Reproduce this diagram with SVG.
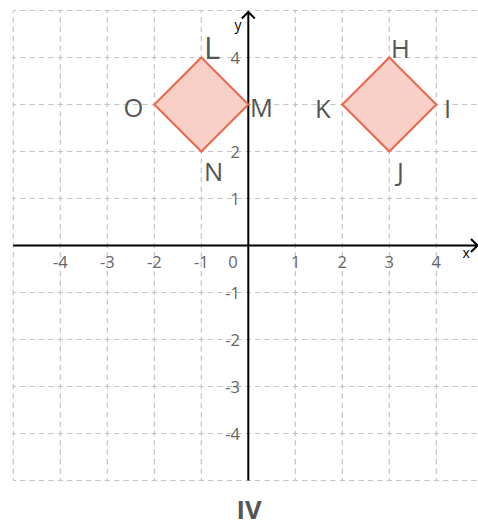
<svg xmlns="http://www.w3.org/2000/svg" width="478" height="525" viewBox="0 0 478 525">
<style>
.grid line{stroke:#c4c4c4;stroke-width:1.2;stroke-dasharray:5.4 4;stroke-dashoffset:2.7;fill:none}
.axis{stroke:#000;stroke-width:2;fill:none}
.shape{fill:#f8d0c7;stroke:#e9684e;stroke-width:2;stroke-linejoin:miter}
.lbl{font-family:"Open Sans","Noto Sans",sans-serif;font-size:25.5px;fill:#555}
.tk{font-family:"Open Sans","Noto Sans",sans-serif;font-size:16.5px;fill:#666}
.tky{font-family:"Open Sans","Noto Sans",sans-serif;font-size:16.5px;fill:#666;text-anchor:end}
.ax{font-family:"Open Sans","Noto Sans",sans-serif;font-size:14px;fill:#000}
</style>
<rect width="478" height="525" fill="#fff"/>
<g class="grid" id="grid">
<line x1="13.3" y1="10.5" x2="13.3" y2="480.5"/>
<line x1="60.3" y1="10.5" x2="60.3" y2="480.5"/>
<line x1="107.3" y1="10.5" x2="107.3" y2="480.5"/>
<line x1="154.3" y1="10.5" x2="154.3" y2="480.5"/>
<line x1="201.3" y1="10.5" x2="201.3" y2="480.5"/>
<line x1="295.3" y1="10.5" x2="295.3" y2="480.5"/>
<line x1="342.3" y1="10.5" x2="342.3" y2="480.5"/>
<line x1="389.3" y1="10.5" x2="389.3" y2="480.5"/>
<line x1="436.3" y1="10.5" x2="436.3" y2="480.5"/>
<line x1="13.3" y1="10.5" x2="478" y2="10.5"/>
<line x1="13.3" y1="57.5" x2="478" y2="57.5"/>
<line x1="13.3" y1="104.5" x2="478" y2="104.5"/>
<line x1="13.3" y1="151.5" x2="478" y2="151.5"/>
<line x1="13.3" y1="198.5" x2="478" y2="198.5"/>
<line x1="13.3" y1="292.5" x2="478" y2="292.5"/>
<line x1="13.3" y1="339.5" x2="478" y2="339.5"/>
<line x1="13.3" y1="386.5" x2="478" y2="386.5"/>
<line x1="13.3" y1="433.5" x2="478" y2="433.5"/>
<line x1="13.3" y1="480.5" x2="478" y2="480.5"/>
</g>
<g id="axes">
<line class="axis" x1="13.3" y1="245.5" x2="477" y2="245.5"/>
<polyline class="axis" points="471,239 477.5,245.5 471,252"/>
<line class="axis" x1="248.3" y1="480.5" x2="248.3" y2="12"/>
<polyline class="axis" points="241.8,18.5 248.3,12 254.8,18.5"/>
<text class="ax" x="462.5" y="258">x</text>
<text class="ax" x="234.5" y="30">y</text>
</g>
<g id="ticks">
<text class="tk" x="60.3" y="267.5" text-anchor="middle">-4</text>
<text class="tk" x="107.3" y="267.5" text-anchor="middle">-3</text>
<text class="tk" x="154.3" y="267.5" text-anchor="middle">-2</text>
<text class="tk" x="201.3" y="267.5" text-anchor="middle">-1</text>
<text class="tk" x="233" y="267.5" text-anchor="middle">0</text>
<text class="tk" x="295.8" y="267.5" text-anchor="middle">1</text>
<text class="tk" x="342.3" y="267.5" text-anchor="middle">2</text>
<text class="tk" x="389.3" y="267.5" text-anchor="middle">3</text>
<text class="tk" x="436.3" y="267.5" text-anchor="middle">4</text>
<text class="tky" x="240" y="63.5">4</text>
<text class="tky" x="240" y="110.5">3</text>
<text class="tky" x="240" y="157.5">2</text>
<text class="tky" x="240" y="204.5">1</text>
<text class="tky" x="240" y="298.5">-1</text>
<text class="tky" x="240" y="345.5">-2</text>
<text class="tky" x="240" y="392.5">-3</text>
<text class="tky" x="240" y="439.5">-4</text>
</g>
<g id="shape-LMNO">
<polygon class="shape" points="201.3,57.5 248.3,104.5 201.3,151.5 154.3,104.5"/>
<text class="lbl" x="204" y="58.5" style="font-size:31px">L</text>
<text class="lbl" x="250" y="117">M</text>
<text class="lbl" x="204" y="180.5">N</text>
<text class="lbl" x="123.5" y="116.5">O</text>
</g>
<g id="shape-HIJK">
<polygon class="shape" points="389.3,57.5 436.3,104.5 389.3,151.5 342.3,104.5"/>
<text class="lbl" x="391" y="57.5">H</text>
<text class="lbl" x="444" y="117.5">I</text>
<text class="lbl" x="397" y="181">J</text>
<text class="lbl" x="315" y="117.5">K</text>
</g>
<text x="249" y="518.5" text-anchor="middle" style="font-family:'Open Sans','Noto Sans',sans-serif;font-size:25.5px;font-weight:bold;fill:#555">IV</text>
</svg>
